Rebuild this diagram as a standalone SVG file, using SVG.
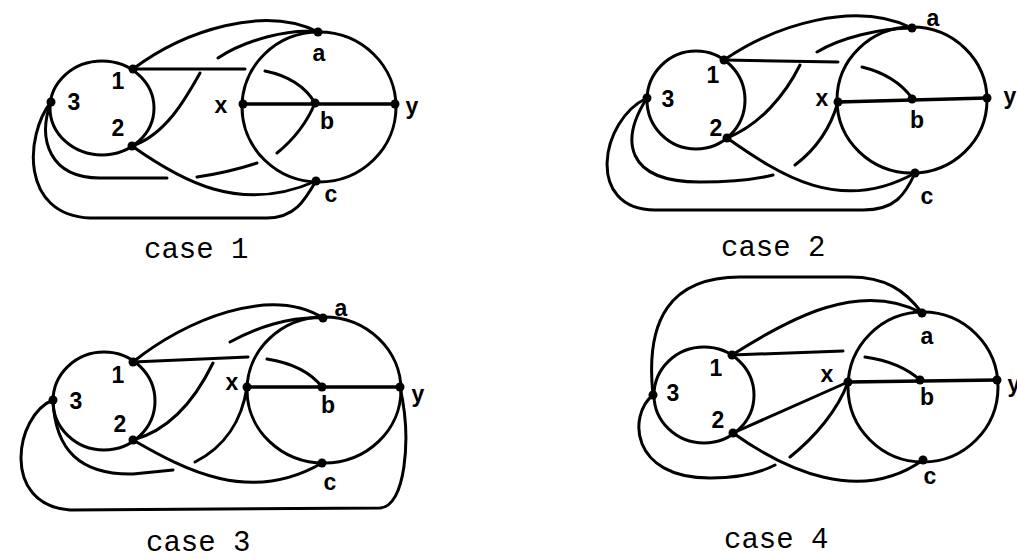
<svg xmlns="http://www.w3.org/2000/svg" width="1017" height="559" viewBox="0 0 1017 559">
<style>
.e{fill:none;stroke:#000;stroke-width:3;stroke-linecap:round;stroke-linejoin:round}
.h{stroke-width:3.6}
.d{fill:#000}
.l{font-family:"Liberation Sans","DejaVu Sans",sans-serif;font-size:23px;font-weight:bold;text-anchor:middle;fill:#000}
.cap{font-family:"Liberation Mono","DejaVu Sans Mono",monospace;font-size:29px;fill:#000}
</style>
<rect width="1017" height="559" fill="#fff"/>

<!-- CASE 1 -->
<g id="case1">
  <g id="c1-connectors" class="e">
    <ellipse cx="102" cy="108" rx="52" ry="47"/>
    <ellipse cx="319" cy="107" rx="77" ry="75"/>
    <path class="h" d="M243,104 L395,104"/>
    <path d="M133,69 C185,30 265,5 318,32"/>
    <path d="M133,69 L245,69 M265,71 Q300,78 315,103"/>
    <path d="M132,146 C165,135 185,100 200,73 M218,58 C245,40 290,28 318,32"/>
    <path d="M132,146 C180,180 240,215 316,181"/>
    <path d="M51,102 C37,140 50,178 100,178 L167,178 M197,177 Q230,172 257,163 M277,153 Q303,132 315,103"/>
    <path d="M51,102 C25,135 20,215 90,218 L267,218 C295,218 305,200 316,181"/>
  </g>
  <g id="c1-node1"><circle class="d" cx="133" cy="69" r="4.5"/><text class="l" x="118" y="89">1</text></g>
  <g id="c1-node2"><circle class="d" cx="132" cy="146" r="4.5"/><text class="l" x="118" y="136">2</text></g>
  <g id="c1-node3"><circle class="d" cx="51" cy="102" r="4.5"/><text class="l" x="74" y="110">3</text></g>
  <g id="c1-nodea"><circle class="d" cx="318" cy="32" r="4.5"/><text class="l" x="319" y="61">a</text></g>
  <g id="c1-nodex"><circle class="d" cx="243" cy="104" r="4.5"/><text class="l" x="221" y="113">x</text></g>
  <g id="c1-nodeb"><circle class="d" cx="315" cy="103" r="4.5"/><text class="l" x="327" y="129">b</text></g>
  <g id="c1-nodey"><circle class="d" cx="395" cy="104" r="4.5"/><text class="l" x="412" y="114">y</text></g>
  <g id="c1-nodec"><circle class="d" cx="316" cy="181" r="4.5"/><text class="l" x="331" y="202">c</text></g>
  <text class="cap" x="144" y="258">case 1</text>
</g>

<!-- CASE 2 -->
<g id="case2">
  <g id="c2-connectors" class="e">
    <ellipse cx="696" cy="100" rx="49" ry="49"/>
    <ellipse cx="912" cy="100" rx="75" ry="73"/>
    <path class="h" d="M838,102 L987,98"/>
    <path d="M724,60 C775,25 855,0 912,28"/>
    <path d="M724,60 L838,62 M862,67 Q895,75 912,98"/>
    <path d="M727,138 C760,125 785,95 800,65 M817,52 C840,38 880,28 912,28"/>
    <path d="M727,138 C780,175 840,215 915,173"/>
    <path d="M647,98 C620,140 625,182 700,182 Q745,182 773,175 M795,165 C815,150 830,130 838,102"/>
    <path d="M647,98 C600,120 585,210 655,210 L863,210 C895,210 905,195 915,173"/>
  </g>
  <g id="c2-node1"><circle class="d" cx="724" cy="60" r="4.5"/><text class="l" x="713" y="83">1</text></g>
  <g id="c2-node2"><circle class="d" cx="727" cy="138" r="4.5"/><text class="l" x="716" y="136">2</text></g>
  <g id="c2-node3"><circle class="d" cx="647" cy="98" r="4.5"/><text class="l" x="668" y="107">3</text></g>
  <g id="c2-nodea"><circle class="d" cx="912" cy="28" r="4.5"/><text class="l" x="933" y="26">a</text></g>
  <g id="c2-nodex"><circle class="d" cx="838" cy="102" r="4.5"/><text class="l" x="822" y="106">x</text></g>
  <g id="c2-nodeb"><circle class="d" cx="912" cy="99" r="4.5"/><text class="l" x="917" y="128">b</text></g>
  <g id="c2-nodey"><circle class="d" cx="987" cy="98" r="4.5"/><text class="l" x="1010" y="104">y</text></g>
  <g id="c2-nodec"><circle class="d" cx="915" cy="173" r="4.5"/><text class="l" x="927" y="204">c</text></g>
  <text class="cap" x="721" y="256">case 2</text>
</g>

<!-- CASE 3 -->
<g id="case3">
  <g id="c3-connectors" class="e">
    <ellipse cx="104" cy="401" rx="51" ry="49"/>
    <ellipse cx="324" cy="390" rx="77" ry="73"/>
    <path class="h" d="M247,387 L400,387"/>
    <path d="M133,362 C185,320 270,285 323,318"/>
    <path d="M133,362 L248,357 M267,359 Q305,365 322,387"/>
    <path d="M133,440 C170,430 195,400 213,363 M230,342 C255,328 290,316 323,318"/>
    <path d="M133,440 C185,470 250,505 322,463"/>
    <path d="M53,400 C55,450 80,475 133,474 L173,470 M195,462 C225,447 242,420 247,387"/>
    <path d="M53,400 C15,415 0,505 70,510 L380,508 C405,507 412,440 400,387"/>
  </g>
  <g id="c3-node1"><circle class="d" cx="133" cy="362" r="4.5"/><text class="l" x="118" y="383">1</text></g>
  <g id="c3-node2"><circle class="d" cx="133" cy="440" r="4.5"/><text class="l" x="120" y="432">2</text></g>
  <g id="c3-node3"><circle class="d" cx="53" cy="400" r="4.5"/><text class="l" x="76" y="409">3</text></g>
  <g id="c3-nodea"><circle class="d" cx="323" cy="318" r="4.5"/><text class="l" x="341" y="316">a</text></g>
  <g id="c3-nodex"><circle class="d" cx="247" cy="387" r="4.5"/><text class="l" x="232" y="390">x</text></g>
  <g id="c3-nodeb"><circle class="d" cx="322" cy="387" r="4.5"/><text class="l" x="328" y="413">b</text></g>
  <g id="c3-nodey"><circle class="d" cx="400" cy="387" r="4.5"/><text class="l" x="418" y="402">y</text></g>
  <g id="c3-nodec"><circle class="d" cx="322" cy="463" r="4.5"/><text class="l" x="330" y="490">c</text></g>
  <text class="cap" x="146" y="551">case 3</text>
</g>

<!-- CASE 4 -->
<g id="case4">
  <g id="c4-connectors" class="e">
    <ellipse cx="704" cy="395" rx="50" ry="48"/>
    <ellipse cx="923" cy="387" rx="75" ry="75"/>
    <path class="h" d="M848,382 L997,380"/>
    <path d="M653,395 C645,320 670,277 740,277 L850,277 C885,277 905,290 922,313"/>
    <path d="M732,355 C790,318 860,280 922,313"/>
    <path d="M732,355 L843,351 M865,357 Q900,362 920,380"/>
    <path d="M733,433 L848,382"/>
    <path d="M733,433 C785,470 860,505 923,460"/>
    <path d="M653,395 C628,415 630,478 710,478 Q750,478 775,465 M790,457 C815,437 838,410 848,382"/>
  </g>
  <g id="c4-node1"><circle class="d" cx="732" cy="355" r="4.5"/><text class="l" x="716" y="376">1</text></g>
  <g id="c4-node2"><circle class="d" cx="733" cy="433" r="4.5"/><text class="l" x="718" y="428">2</text></g>
  <g id="c4-node3"><circle class="d" cx="653" cy="395" r="4.5"/><text class="l" x="673" y="401">3</text></g>
  <g id="c4-nodea"><circle class="d" cx="922" cy="313" r="4.5"/><text class="l" x="927" y="344">a</text></g>
  <g id="c4-nodex"><circle class="d" cx="848" cy="382" r="4.5"/><text class="l" x="827" y="382">x</text></g>
  <g id="c4-nodeb"><circle class="d" cx="920" cy="380" r="4.5"/><text class="l" x="927" y="405">b</text></g>
  <g id="c4-nodey"><circle class="d" cx="997" cy="380" r="4.5"/><text class="l" x="1014" y="392">y</text></g>
  <g id="c4-nodec"><circle class="d" cx="923" cy="460" r="4.5"/><text class="l" x="930" y="484">c</text></g>
  <text class="cap" x="724" y="548">case 4</text>
</g>
</svg>
